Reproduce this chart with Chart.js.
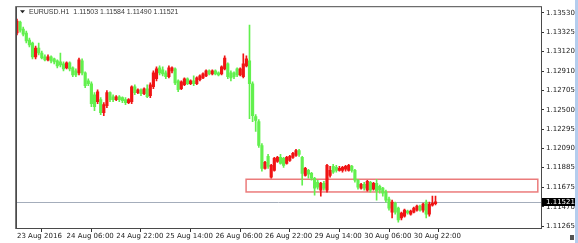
<!DOCTYPE html>
<html>
<head>
<meta charset="utf-8">
<script src="https://cdn.jsdelivr.net/npm/chart.js@4/dist/chart.umd.min.js"></script>
<style>
  html, body { margin: 0; padding: 0; background: #fff; }
  #wrap { width: 578px; height: 243px; position: relative; }
</style>
</head>
<body>
<div id="wrap"><canvas id="chart"></canvas></div>
<script>
// EURUSD H1, 23 Aug 14:00 .. 31 Aug 05:00
const symbolName = 'EURUSD.H1';

const opens = [
  1.13316, 1.13432, 1.13358, 1.13316, 1.13242, 1.13210, 1.13062, 1.13157, 1.13104, 1.13062,
  1.13030, 1.13062, 1.13041, 1.13020, 1.13009, 1.12988, 1.12946, 1.12999, 1.12946, 1.12914,
  1.12893, 1.13020, 1.12893, 1.12808, 1.12777, 1.12660, 1.12586, 1.12608, 1.12470, 1.12544,
  1.12682, 1.12639, 1.12608, 1.12639, 1.12629, 1.12608, 1.12576, 1.12586, 1.12745, 1.12682,
  1.12713, 1.12671, 1.12724, 1.12650, 1.12745, 1.12830, 1.12946, 1.12925, 1.12893, 1.12851,
  1.12914, 1.12935, 1.12808, 1.12724, 1.12766, 1.12830, 1.12777, 1.12808, 1.12777, 1.12819,
  1.12840, 1.12861, 1.12914, 1.12882, 1.12914, 1.12893, 1.12882, 1.12935, 1.12988, 1.12893,
  1.12893, 1.12935, 1.12872, 1.12851, 1.12967, 1.13020, 1.12777, 1.12428, 1.12375, 1.12121,
  1.11878, 1.12005, 1.11783, 1.11857, 1.11952, 1.11994, 1.11984, 1.11931, 1.11963, 1.11994,
  1.12016, 1.12068, 1.11994, 1.11804, 1.11857, 1.11825, 1.11773, 1.11730, 1.11646, 1.11720,
  1.11646, 1.11804, 1.11899, 1.11889, 1.11857, 1.11857, 1.11868, 1.11857, 1.11899, 1.11857,
  1.11751, 1.11667, 1.11709, 1.11646, 1.11730, 1.11656, 1.11720, 1.11688, 1.11667, 1.11625,
  1.11551, 1.11413, 1.11508, 1.11455, 1.11350, 1.11371, 1.11424, 1.11392, 1.11413, 1.11434,
  1.11477, 1.11434, 1.11519, 1.11392, 1.11487, 1.11503
];
const highs = [
  1.13464, 1.13443, 1.13379, 1.13337, 1.13263, 1.13221, 1.13178, 1.13210, 1.13125, 1.13083,
  1.13083, 1.13073, 1.13051, 1.13030, 1.13104, 1.13009, 1.13009, 1.13009, 1.12956, 1.12935,
  1.13051, 1.13041, 1.12903, 1.12830, 1.12798, 1.12682, 1.12713, 1.12629, 1.12576, 1.12703,
  1.12692, 1.12660, 1.12650, 1.12650, 1.12639, 1.12629, 1.12618, 1.12756, 1.12766, 1.12724,
  1.12724, 1.12734, 1.12766, 1.12787, 1.12914, 1.12956, 1.12967, 1.12956, 1.12914, 1.12967,
  1.12956, 1.12946, 1.12819, 1.12808, 1.12840, 1.12840, 1.12819, 1.12861, 1.12851, 1.12872,
  1.12893, 1.12925, 1.12925, 1.12925, 1.12925, 1.12903, 1.12967, 1.13073, 1.12999, 1.12914,
  1.12903, 1.12946, 1.12946, 1.13094, 1.13073, 1.13400, 1.12798, 1.12449, 1.12396, 1.12142,
  1.11952, 1.12026, 1.11921, 1.11994, 1.12005, 1.12026, 1.11994, 1.12005, 1.12016, 1.12047,
  1.12079, 1.12079, 1.12005, 1.11889, 1.11868, 1.11836, 1.11783, 1.11751, 1.11730, 1.11741,
  1.11921, 1.11899, 1.11921, 1.11910, 1.11899, 1.11899, 1.11910, 1.11921, 1.11910, 1.11868,
  1.11762, 1.11720, 1.11730, 1.11751, 1.11741, 1.11730, 1.11762, 1.11699, 1.11677, 1.11646,
  1.11572, 1.11540, 1.11519, 1.11466, 1.11413, 1.11445, 1.11434, 1.11434, 1.11466, 1.11487,
  1.11487, 1.11508, 1.11540, 1.11519, 1.11582, 1.11584
];
const lows = [
  1.13295, 1.13326, 1.13284, 1.13210, 1.13168, 1.13041, 1.13041, 1.13083, 1.13041, 1.13020,
  1.13020, 1.12999, 1.12988, 1.12946, 1.12956, 1.12914, 1.12935, 1.12914, 1.12851, 1.12851,
  1.12872, 1.12872, 1.12734, 1.12756, 1.12534, 1.12491, 1.12565, 1.12449, 1.12438, 1.12523,
  1.12586, 1.12586, 1.12597, 1.12586, 1.12576, 1.12555, 1.12565, 1.12565, 1.12660, 1.12671,
  1.12650, 1.12660, 1.12629, 1.12629, 1.12724, 1.12808, 1.12872, 1.12861, 1.12830, 1.12840,
  1.12893, 1.12766, 1.12692, 1.12713, 1.12756, 1.12766, 1.12766, 1.12756, 1.12766, 1.12808,
  1.12830, 1.12851, 1.12872, 1.12872, 1.12872, 1.12861, 1.12872, 1.12925, 1.12830, 1.12808,
  1.12830, 1.12851, 1.12861, 1.12840, 1.12956, 1.12407, 1.12375, 1.12269, 1.12100, 1.11847,
  1.11868, 1.11878, 1.11773, 1.11847, 1.11942, 1.11921, 1.11889, 1.11921, 1.11952, 1.11984,
  1.12005, 1.12005, 1.11699, 1.11794, 1.11773, 1.11751, 1.11593, 1.11656, 1.11582, 1.11646,
  1.11625, 1.11783, 1.11825, 1.11836, 1.11847, 1.11836, 1.11847, 1.11847, 1.11836, 1.11730,
  1.11656, 1.11656, 1.11646, 1.11635, 1.11625, 1.11646, 1.11540, 1.11614, 1.11582, 1.11519,
  1.11434, 1.11350, 1.11392, 1.11307, 1.11329, 1.11360, 1.11392, 1.11381, 1.11403, 1.11424,
  1.11424, 1.11413, 1.11350, 1.11371, 1.11477, 1.11490
];
const closes = [
  1.13443, 1.13347, 1.13305, 1.13231, 1.13189, 1.13062, 1.13157, 1.13104, 1.13051, 1.13030,
  1.13062, 1.13020, 1.13009, 1.12967, 1.12977, 1.12935, 1.12999, 1.12935, 1.12872, 1.12872,
  1.13030, 1.12893, 1.12756, 1.12777, 1.12565, 1.12534, 1.12692, 1.12470, 1.12555, 1.12682,
  1.12608, 1.12608, 1.12639, 1.12608, 1.12597, 1.12576, 1.12608, 1.12745, 1.12682, 1.12713,
  1.12671, 1.12724, 1.12639, 1.12766, 1.12893, 1.12935, 1.12893, 1.12882, 1.12851, 1.12946,
  1.12946, 1.12787, 1.12713, 1.12798, 1.12830, 1.12777, 1.12808, 1.12777, 1.12840, 1.12861,
  1.12882, 1.12914, 1.12882, 1.12914, 1.12882, 1.12872, 1.12956, 1.13051, 1.12851, 1.12840,
  1.12851, 1.12872, 1.12935, 1.12988, 1.13041, 1.12777, 1.12438, 1.12386, 1.12121, 1.11878,
  1.11942, 1.11899, 1.11910, 1.11984, 1.11994, 1.11931, 1.11910, 1.11994, 1.12005, 1.12037,
  1.12068, 1.12026, 1.11825, 1.11878, 1.11815, 1.11773, 1.11667, 1.11677, 1.11720, 1.11667,
  1.11910, 1.11857, 1.11836, 1.11857, 1.11878, 1.11889, 1.11899, 1.11910, 1.11857, 1.11751,
  1.11677, 1.11709, 1.11667, 1.11741, 1.11646, 1.11720, 1.11635, 1.11646, 1.11614, 1.11540,
  1.11455, 1.11519, 1.11413, 1.11329, 1.11403, 1.11434, 1.11403, 1.11424, 1.11455, 1.11477,
  1.11434, 1.11498, 1.11392, 1.11498, 1.11508, 1.11521
];

// time axis: bar index of each label
const timeTickBars = [0, 16, 32, 48, 64, 80, 96, 112, 128];
const timeTickLabels = ['23 Aug 2016', '24 Aug 06:00', '24 Aug 22:00', '25 Aug 14:00',
  '26 Aug 06:00', '26 Aug 22:00', '29 Aug 14:00', '30 Aug 06:00', '30 Aug 22:00'];

const priceTicks = [1.11265, 1.11470, 1.11675, 1.11885, 1.12090, 1.12295,
  1.12500, 1.12705, 1.12910, 1.13120, 1.13325, 1.13530];

// rectangle object drawn on the chart (bar index, price)
const zoneBars = [73.9, 168];
const zonePrices = [1.11627, 1.11762];

const UP = '#f01414';
const DOWN = '#62f04e';
const FONT = '7px "DejaVu Sans"';

const candleColors = closes.map((c, i) => c >= opens[i] ? UP : DOWN);
const bodies = opens.map((o, i) => ({ x: i, y: [o, closes[i]] }));
const wicks = lows.map((l, i) => ({ x: i, y: [l, highs[i]] }));

const overlay = {
  id: 'overlay',
  beforeDatasetsDraw(chart) {
    const { ctx, chartArea: a, scales: { x, y } } = chart;
    ctx.save();
    // rectangle zone
    const x1 = x.getPixelForValue(zoneBars[0]);
    const x2 = x.getPixelForValue(zoneBars[1]);
    const y1 = y.getPixelForValue(zonePrices[1]);
    const y2 = y.getPixelForValue(zonePrices[0]);
    ctx.strokeStyle = 'rgba(232, 100, 100, 0.85)';
    ctx.lineWidth = 1.5;
    ctx.strokeRect(x1, y1, x2 - x1, y2 - y1);
    // bid line
    const py = Math.round(y.getPixelForValue(closes[closes.length - 1])) + 0.5;
    ctx.strokeStyle = '#a4adbb';
    ctx.lineWidth = 1;
    ctx.beginPath();
    ctx.moveTo(a.left, py);
    ctx.lineTo(a.right, py);
    ctx.stroke();
    ctx.restore();
  },
  afterDraw(chart) {
    const { ctx, chartArea: a, scales: { y } } = chart;
    ctx.save();
    // frame
    ctx.strokeStyle = '#4a4a4a';
    ctx.lineWidth = 1;
    ctx.strokeRect(a.left + 0.5, a.top + 0.5, a.right - a.left, a.bottom - a.top);
    ctx.strokeStyle = '#777';
    ctx.beginPath();
    ctx.moveTo(a.left - 0.5, a.top);
    ctx.lineTo(a.left - 0.5, a.bottom + 1);
    ctx.stroke();

    // title with last bar OHLC
    const n = closes.length - 1;
    ctx.fillStyle = '#222';
    ctx.beginPath();
    ctx.moveTo(a.left + 4, a.top + 4);
    ctx.lineTo(a.left + 9, a.top + 4);
    ctx.lineTo(a.left + 6.5, a.top + 7);
    ctx.closePath();
    ctx.fill();
    ctx.font = '7px "Liberation Sans"';
    ctx.fillStyle = '#3a3a3a';
    ctx.textBaseline = 'middle';
    ctx.textAlign = 'left';
    const title = symbolName + '  ' + [opens[n], highs[n], lows[n], closes[n]].map(v => v.toFixed(5)).join(' ');
    ctx.fillText(title, a.left + 13, a.top + 5.5);

    // bid price label
    ctx.font = FONT;
    const py = Math.round(y.getPixelForValue(closes[n]));
    ctx.fillStyle = '#000';
    ctx.fillRect(a.right + 1, py - 4, 34, 8);
    ctx.fillStyle = '#fff';
    ctx.fillText(closes[n].toFixed(5), a.right + 5, py);

    // window edge
    ctx.fillStyle = '#b4cdee';
    ctx.fillRect(chart.width - 3, 0, 3, chart.height);
    ctx.fillStyle = '#555';
    ctx.fillRect(chart.width - 8, chart.height - 8, 4, 5);
    ctx.restore();
  }
};

new Chart(document.getElementById('chart').getContext('2d'), {
  type: 'bar',
  data: {
    datasets: [
      { data: bodies, backgroundColor: candleColors, barThickness: 2.5, minBarLength: 1, grouped: false, borderWidth: 0 },
      { data: wicks, backgroundColor: candleColors, barThickness: 1, grouped: false, borderWidth: 0 }
    ]
  },
  options: {
    responsive: true,
    maintainAspectRatio: false,
    animation: false,
    events: [],
    layout: { padding: { left: 16, top: 5, right: 0, bottom: 0 } },
    plugins: { legend: { display: false }, tooltip: { enabled: false } },
    scales: {
      x: {
        type: 'linear',
        offset: false,
        min: -0.32,
        max: 169.03,
        afterFit: s => { s.height = 15; },
        afterBuildTicks: s => { s.ticks = timeTickBars.map(v => ({ value: v })); },
        border: { display: false },
        grid: { drawOnChartArea: false, tickLength: 4, color: '#333' },
        ticks: {
          align: 'start',
          padding: 0,
          autoSkip: false,
          maxRotation: 0,
          color: '#222',
          font: { family: 'DejaVu Sans', size: 7 },
          callback: (v, i) => timeTickLabels[i]
        }
      },
      y: {
        position: 'right',
        min: 1.11244,
        max: 1.13601,
        afterFit: s => { s.width = 37; },
        afterBuildTicks: s => { s.ticks = priceTicks.map(v => ({ value: v })); },
        border: { display: false },
        grid: { drawOnChartArea: false, tickLength: 3, color: '#333' },
        ticks: {
          padding: 2,
          color: '#222',
          font: { family: 'DejaVu Sans', size: 7 },
          callback: v => v.toFixed(5)
        }
      }
    }
  },
  plugins: [overlay]
});
</script>
</body>
</html>
